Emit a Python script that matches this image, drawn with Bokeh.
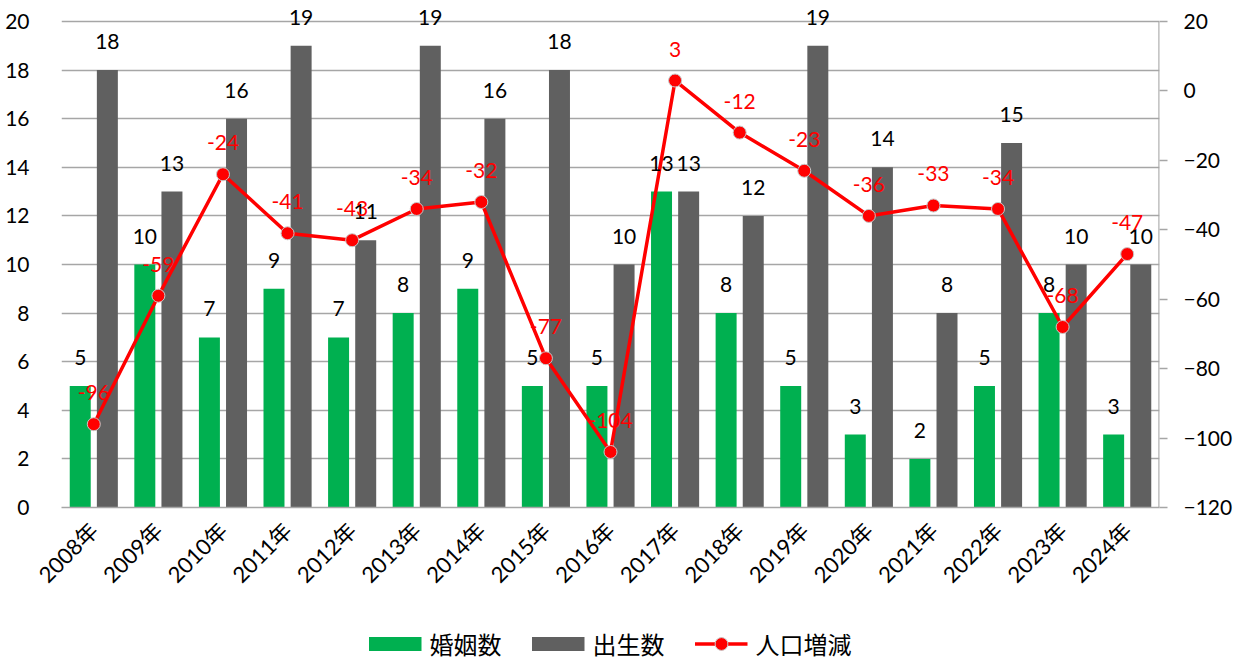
import math
from bokeh.plotting import figure
from bokeh.layouts import column
from bokeh.models import (Range1d, LinearAxis, FixedTicker, ColumnDataSource, LabelSet,
                          Legend, LegendItem)
from bokeh.core.properties import value
from bokeh.embed import file_html
from bokeh.resources import INLINE

years = ["2008年", "2009年", "2010年", "2011年", "2012年", "2013年", "2014年", "2015年", "2016年",
         "2017年", "2018年", "2019年", "2020年", "2021年", "2022年", "2023年", "2024年"]
marriages = [5, 10, 7, 9, 7, 8, 9, 5, 5, 13, 8, 5, 3, 2, 5, 8, 3]
births = [18, 13, 16, 19, 11, 19, 16, 18, 10, 13, 12, 19, 14, 8, 15, 10, 10]
pop_change = [-96, -59, -24, -41, -43, -34, -32, -77, -104, 3, -12, -23, -36, -33, -34, -68, -47]
series_names = ["婚姻数", "出生数", "人口増減"]

FONT = "Lato, 'Noto Sans CJK JP', sans-serif"
GREEN = "#00B050"
GRAY = "#606060"
RED = "#FF0000"
GRID = "#A6A6A6"

# plot geometry (pixels)
PLOT_H = 486          # height of the 0..20 area
TOP_PAD = 21          # extra room above the top gridline for labels
L_MIN, L_MAX = 0, 20
R_MIN, R_MAX = -120, 20
l_top = L_MAX + TOP_PAD * (L_MAX - L_MIN) / PLOT_H
r_top = R_MAX + TOP_PAD * (R_MAX - R_MIN) / PLOT_H

n = len(years)
centers = [i + 0.5 for i in range(n)]
src = ColumnDataSource(dict(
    xc=centers,
    xg=[c - 0.21 for c in centers],
    xb=[c + 0.21 for c in centers],
    m=marriages, b=births, pc=pop_change,
    mt=[str(v) for v in marriages], bt=[str(v) for v in births], pt=[str(v) for v in pop_change],
))

p = figure(frame_width=1098, frame_height=PLOT_H + TOP_PAD, output_backend="svg",
           toolbar_location=None, x_range=Range1d(0, n), y_range=Range1d(L_MIN, l_top),
           min_border_left=61, min_border_right=83, min_border_top=0, min_border_bottom=117)
p.outline_line_color = None
p.extra_y_ranges = {"pop": Range1d(R_MIN, r_top)}

p.vbar(x="xg", top="m", width=0.325, bottom=0, source=src, fill_color=GREEN, line_color=None)
p.vbar(x="xb", top="b", width=0.325, bottom=0, source=src, fill_color=GRAY, line_color=None)

# right axis line (only spanning the value range)
p.segment(x0=[n - 0.006], x1=[n - 0.006], y0=[R_MIN], y1=[R_MAX], y_range_name="pop",
          line_color=GRID, line_width=1.5)

p.line(x="xc", y="pc", source=src, y_range_name="pop", line_color=RED, line_width=3.5)
p.scatter(x="xc", y="pc", source=src, y_range_name="pop", size=13, fill_color=RED,
          line_color="#C8C8C8", line_width=1)

p.add_layout(LabelSet(x="xg", y="m", text="mt", source=src, text_align="center",
                      text_baseline="alphabetic", y_offset=21, text_font=value(FONT),
                      text_font_size=value("21px"), text_color="black"))
p.add_layout(LabelSet(x="xb", y="b", text="bt", source=src, text_align="center",
                      text_baseline="alphabetic", y_offset=21, text_font=value(FONT),
                      text_font_size=value("21px"), text_color="black"))
p.add_layout(LabelSet(x="xc", y="pc", text="pt", source=src, y_range_name="pop",
                      text_align="center", text_baseline="alphabetic", y_offset=24,
                      text_font=value(FONT), text_font_size=value("21px"), text_color=RED))

# grid
p.xgrid.grid_line_color = None
p.ygrid.grid_line_color = GRID
p.ygrid.grid_line_width = 1.5

# left axis
ya = p.yaxis[0]
ya.ticker = FixedTicker(ticks=list(range(L_MIN, L_MAX + 1, 2)))
ya.axis_line_color = None
ya.major_tick_line_color = None
ya.minor_tick_line_color = None
ya.major_label_standoff = 26
ya.major_label_text_font = FONT
ya.major_label_text_font_size = "21px"
ya.major_label_text_color = "black"

# right axis
ra = LinearAxis(y_range_name="pop", ticker=FixedTicker(ticks=list(range(R_MIN, R_MAX + 1, 20))))
ra.axis_line_color = None
ra.major_tick_line_color = GRID
ra.major_tick_line_width = 1.5
ra.major_tick_out = 8
ra.major_tick_in = 0
ra.minor_tick_line_color = None
ra.major_label_standoff = 16
ra.major_label_text_font = FONT
ra.major_label_text_font_size = "21px"
ra.major_label_text_color = "black"
p.add_layout(ra, "right")

# bottom axis
xa = p.xaxis[0]
xa.ticker = FixedTicker(ticks=centers)
xa.major_label_overrides = {c: y for c, y in zip(centers, years)}
xa.major_label_orientation = math.pi / 4
xa.axis_line_color = GRID
xa.axis_line_width = 1.5
xa.major_tick_line_color = None
xa.minor_tick_line_color = None
xa.major_label_standoff = 13
xa.major_label_text_font = FONT
xa.major_label_text_font_size = "22px"
xa.major_label_text_color = "black"

# legend in a separate strip below the chart
p2 = figure(width=1242, height=38, output_backend="svg", toolbar_location=None,
            x_range=Range1d(0, 1), y_range=Range1d(0, 1), x_axis_type=None, y_axis_type=None,
            min_border=0)
p2.outline_line_color = None
p2.grid.grid_line_color = None
lg = p2.line(x=[5, 6], y=[5, 5], line_color=GREEN, line_width=14, line_cap="butt")
lb = p2.line(x=[5, 6], y=[5, 5], line_color=GRAY, line_width=14, line_cap="butt")
ll = p2.line(x=[5, 6], y=[5, 5], line_color=RED, line_width=3.5)
ls = p2.scatter(x=[5], y=[5], size=13, fill_color=RED, line_color="#C8C8C8", line_width=1)

legend = Legend(items=[
    LegendItem(label=series_names[0], renderers=[lg]),
    LegendItem(label=series_names[1], renderers=[lb]),
    LegendItem(label=series_names[2], renderers=[ll, ls]),
], orientation="horizontal", location="center")
legend.label_text_font = FONT
legend.label_text_font_size = "24px"
legend.label_text_color = "black"
legend.glyph_width = 53
legend.glyph_height = 32
legend.spacing = 30
legend.label_standoff = 8
legend.border_line_color = None
legend.background_fill_alpha = 0
legend.padding = 0
legend.margin = 0
p2.add_layout(legend, "center")

layout = column(p, p2, spacing=0)
open("out.html", "w").write(file_html(layout, INLINE))
